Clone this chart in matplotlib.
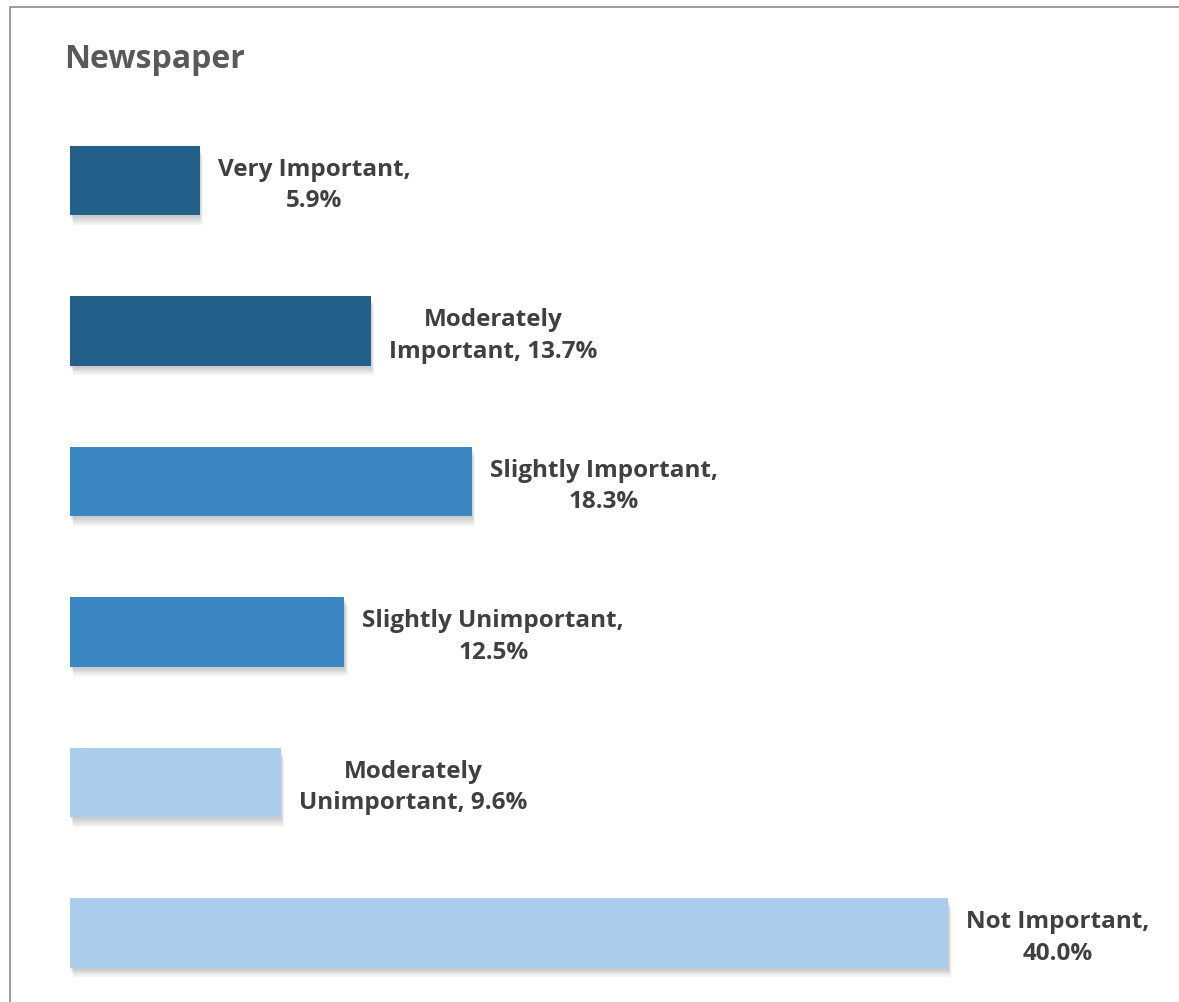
import matplotlib.pyplot as plt
import matplotlib.patches as patches

# Данные
categories = ['Very Important', 'Moderately Important', 'Slightly Important',
              'Slightly Unimportant', 'Moderately Unimportant', 'Not Important']
values = [5.9, 13.7, 18.3, 12.5, 9.6, 40.0]
labels = ['Very Important,\n5.9%', 'Moderately\nImportant, 13.7%',
          'Slightly Important,\n18.3%', 'Slightly Unimportant,\n12.5%',
          'Moderately\nUnimportant, 9.6%', 'Not Important,\n40.0%']
colors = ['#236089', '#236089', '#3a87c3', '#3a87c3', '#a9cdea', '#a9cdea']

plt.rcParams['font.family'] = ['Open Sans', 'DejaVu Sans']

W, H = 1179, 1003
fig = plt.figure(figsize=(W / 100, H / 100), dpi=100)

# оси в пикселях: 0% на x=70, ~21.95 px на 1%
x0, x1 = 70, 70 + 45 * 21.95
y_top, y_bot = 91.2, 994.2
ax = fig.add_axes([x0 / W, 1 - y_bot / H, (x1 - x0) / W, (y_bot - y_top) / H])
ax.set_xlim(0, 45)
ax.set_ylim(5.4, -0.6)
ax.axis('off')

pos = list(range(len(values)))

# тень под столбцами
for k in range(1, 6):
    ax.barh([p + 0.012 * k for p in pos], values, left=0.03 * k, height=0.465,
            color='#000000', alpha=0.045, zorder=1)

ax.barh(pos, values, height=0.465, color=colors, zorder=2)

# подписи справа от столбцов
for p, v, lab in zip(pos, values, labels):
    ax.annotate(lab, xy=(v, p), xytext=(13, -3), textcoords='offset points',
                ha='left', va='center', multialignment='center',
                fontsize=17.5, fontweight='bold', color='#404040',
                linespacing=1.42)

fig.text(64 / W, 1 - 68 / H, 'Newspaper', fontsize=23, fontweight='bold',
         color='#595959', ha='left', va='baseline')

# рамка
frame = patches.Rectangle((10 / W, -0.01), 1.0, 1 - 8 / H + 0.01, fill=False,
                          edgecolor='#8c8c8c', linewidth=1.2,
                          transform=fig.transFigure)
fig.add_artist(frame)

plt.savefig('out.png', dpi=100, facecolor='white')
